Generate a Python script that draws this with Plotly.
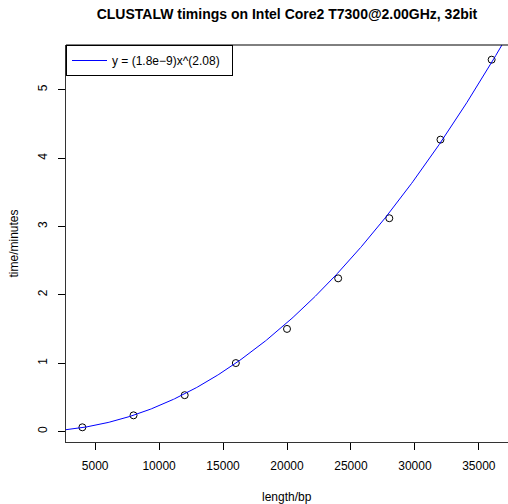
import numpy as np
import plotly.graph_objects as go

# Data
length_bp = [4000, 8000, 12000, 16000, 20000, 24000, 28000, 32000, 36000]
time_min = [0.06, 0.235, 0.53, 1.0, 1.50, 2.24, 3.12, 4.27, 5.44]

# fitted model parameters (from the legend)
coef_a = 1.8e-9
coef_b = 2.08

x_ticks = [5000, 10000, 15000, 20000, 25000, 30000, 35000]
y_ticks = [0, 1, 2, 3, 4, 5]

# R-style 4% axis extension
def r_range(v):
    lo, hi = min(v), max(v)
    d = (hi - lo) * 0.04
    return [lo - d, hi + d]

xr = r_range(length_bp)
yr = r_range(time_min)

curve_x = np.linspace(xr[0], xr[1], 400)
curve_y = coef_a * curve_x ** coef_b

FONT = "Liberation Sans, Arial, Helvetica, sans-serif"

fig = go.Figure()
fig.add_trace(go.Scatter(
    x=length_bp, y=time_min, mode="markers", showlegend=False,
    marker=dict(symbol="circle-open", size=7, color="black", line=dict(width=1, color="black")),
))
fig.add_trace(go.Scatter(
    x=curve_x, y=curve_y, mode="lines", name="y = (1.8e\u22129)x^(2.08)\u00a0\u00a0",
    line=dict(color="blue", width=1),
))

fig.update_layout(
    template="none",
    width=508, height=504,
    margin=dict(l=66, r=0, t=45, b=62, autoexpand=False),
    paper_bgcolor="white", plot_bgcolor="white",
    font=dict(family=FONT, size=12, color="black"),
    title=dict(text="<b>CLUSTALW timings on Intel Core2 T7300@2.00GHz, 32bit</b>",
               x=287 / 508, xanchor="center", y=1 - 14.5 / 504, yanchor="middle",
               font=dict(size=14, family=FONT, color="black")),
    legend=dict(x=0, y=1, xanchor="left", yanchor="top", itemwidth=35,
                bordercolor="black", borderwidth=1, bgcolor="white",
                font=dict(size=12, family=FONT)),
    showlegend=True,
    shapes=[dict(type="line", xref="paper", yref="paper", x0=0, x1=1, y0=1, y1=1,
                 line=dict(color="black", width=1))],
)
fig.update_xaxes(
    range=xr, tickvals=x_ticks, ticktext=[str(v) for v in x_ticks], automargin=False,
    showgrid=False, zeroline=False, showline=True, linecolor="#333333", linewidth=1,
    ticks="outside", ticklen=7, tickcolor="black", ticklabelstandoff=6,
)
fig.update_yaxes(
    range=yr, tickvals=y_ticks, ticktext=[str(v) for v in y_ticks], tickangle=-90, automargin=False,
    showgrid=False, zeroline=False, showline=True, linecolor="#333333", linewidth=1,
    ticks="outside", ticklen=7, tickcolor="black", ticklabelstandoff=6,
)
fig.add_annotation(text="length/bp", xref="paper", yref="paper",
                   x=0.5, y=-(497 - 442) / 397, xanchor="center", yanchor="middle",
                   showarrow=False, font=dict(size=12, family=FONT))
fig.add_annotation(text="time/minutes", xref="paper", yref="paper",
                   x=-(66 - 13) / 442, y=0.5, xanchor="center", yanchor="middle",
                   textangle=-90, showarrow=False, font=dict(size=12, family=FONT))

fig.write_html("out.html", config={"displayModeBar": False},
               post_script="document.body.style.margin='0px';document.body.style.overflow='hidden';")
